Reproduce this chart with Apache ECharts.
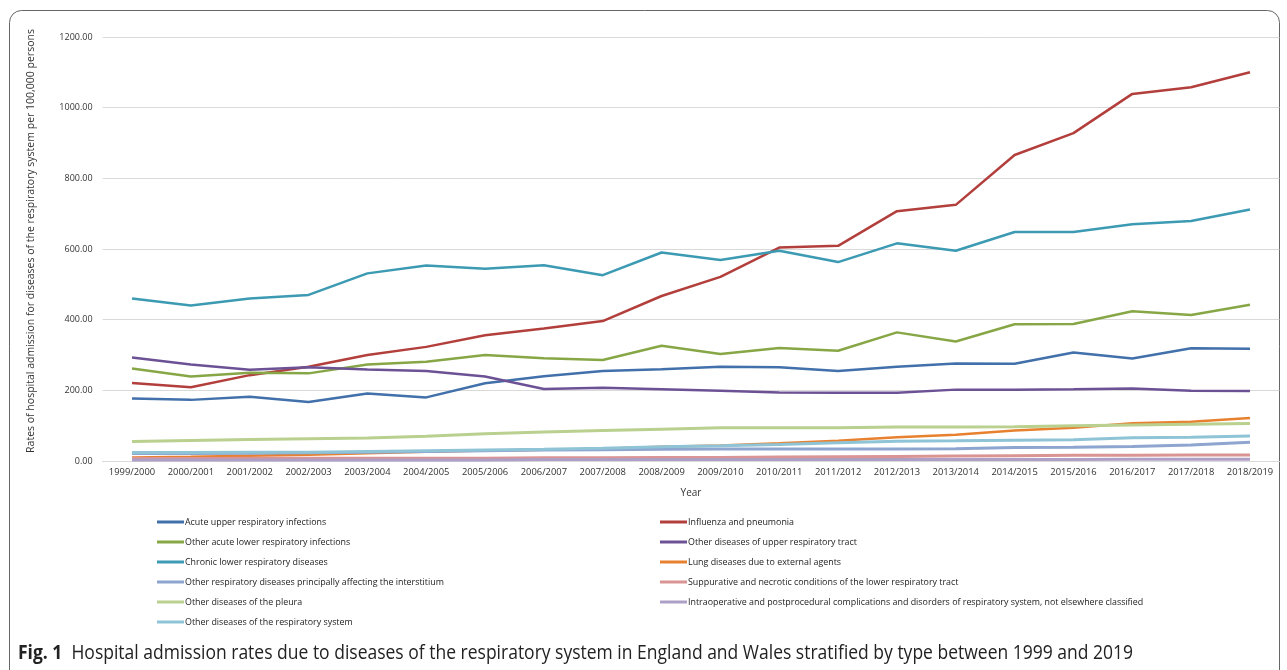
<!DOCTYPE html>
<html>
<head>
<meta charset="utf-8">
<script src="https://cdn.jsdelivr.net/npm/echarts@6/dist/echarts.min.js"></script>
<style>
  html, body { margin: 0; padding: 0; background: #fff; }
  #chart { width: 1287px; height: 670px; }
</style>
</head>
<body>
<div id="chart"></div>
<script>
const years = ['1999/2000', '2000/2001', '2001/2002', '2002/2003', '2003/2004', '2004/2005', '2005/2006',
  '2006/2007', '2007/2008', '2008/2009', '2009/2010', '2010/2011', '2011/2012', '2012/2013', '2013/2014',
  '2014/2015', '2015/2016', '2016/2017', '2017/2018', '2018/2019']

const acuteUpper = [177, 173, 182, 167, 191, 180, 220, 240, 255, 260, 267, 265, 255, 267, 276, 275, 307, 290, 319, 318]
const influenza = [221, 209, 243, 267, 300, 323, 356, 375, 396, 467, 521, 604, 609, 707, 725, 866, 928, 1039, 1058, 1100]
const otherAcuteLower = [262, 239, 250, 248, 273, 281, 300, 291, 286, 326, 303, 320, 312, 364, 338, 387, 388, 424, 413, 442]
const otherUpperTract = [293, 273, 258, 265, 259, 255, 239, 204, 207, 203, 199, 194, 193, 193, 202, 202, 203, 205, 199, 198]
const chronicLower = [460, 440, 460, 470, 531, 553, 544, 554, 526, 590, 569, 595, 563, 616, 595, 648, 648, 670, 679, 712]
const lungExternal = [10, 12, 15, 18, 22, 26, 30, 32, 35, 40, 44, 50, 57, 67, 74, 86, 94, 107, 111, 122]
const interstitium = [21, 21, 22, 23, 25, 27, 29, 31, 32, 33, 34, 34, 34, 34, 35, 38, 39, 41, 45, 53]
const suppurative = [7, 7, 8, 8, 8, 8, 8, 9, 9, 10, 10, 11, 12, 13, 14, 15, 16, 16, 17, 17]
const pleura = [55, 58, 61, 63, 65, 70, 77, 82, 86, 90, 94, 94, 94, 96, 96, 97, 100, 102, 104, 106]
const intraoperative = [3, 3, 3, 3, 3, 3, 3, 4, 4, 4, 4, 4, 4, 4, 4, 4, 4, 5, 5, 5]
const otherRespSystem = [24, 24, 25, 25, 27, 29, 31, 33, 36, 40, 43, 47, 52, 56, 57, 59, 60, 66, 67, 71]

const seriesList = [
  { name: 'Acute upper respiratory infections', data: acuteUpper, color: '#4170aa', width: 2.5 },
  { name: 'Influenza and pneumonia', data: influenza, color: '#b23f3c', width: 2.5 },
  { name: 'Other acute lower respiratory infections', data: otherAcuteLower, color: '#87a747', width: 2.5 },
  { name: 'Other diseases of upper respiratory tract', data: otherUpperTract, color: '#6c5295', width: 2.5 },
  { name: 'Chronic lower respiratory diseases', data: chronicLower, color: '#3c9ab3', width: 2.5 },
  { name: 'Lung diseases due to external agents', data: lungExternal, color: '#e8812f', width: 2.5 },
  { name: 'Other respiratory diseases principally affecting the interstitium', data: interstitium, color: '#8da5cf', width: 3 },
  { name: 'Suppurative and necrotic conditions of the lower respiratory tract', data: suppurative, color: '#d99493', width: 3 },
  { name: 'Other diseases of the pleura', data: pleura, color: '#b9d08f', width: 3 },
  { name: 'Intraoperative and postprocedural complications and disorders of respiratory system, not elsewhere classified', data: intraoperative, color: '#ae9fc6', width: 3 },
  { name: 'Other diseases of the respiratory system', data: otherRespSystem, color: '#8fc4d7', width: 3 },
]

const leftLegend = [0, 2, 4, 6, 8, 10].map(i => seriesList[i].name)
const rightLegend = [1, 3, 5, 7, 9].map(i => seriesList[i].name)

const font = "'Open Sans', sans-serif"
const legendBase = {
  orient: 'vertical',
  top: 516,
  padding: 0,
  icon: 'rect',
  itemWidth: 27,
  itemHeight: 3,
  itemGap: 8,
  textStyle: { fontFamily: font, fontSize: 8.9, color: '#222', lineHeight: 12, padding: [0, 0, 0, -4] },
}

const chart = echarts.init(document.getElementById('chart'))
chart.setOption({
  animation: false,
  grid: { left: 102.6, right: 7.6, top: 37, bottom: 209 },
  legend: [
    { ...legendBase, left: 157, data: leftLegend },
    { ...legendBase, left: 660, data: rightLegend },
  ],
  xAxis: {
    type: 'category',
    data: years,
    name: 'Year',
    nameLocation: 'middle',
    nameGap: 27,
    nameTextStyle: { fontFamily: font, fontSize: 10, color: '#333' },
    axisLine: { lineStyle: { color: '#d9d9d9', width: 1 } },
    axisTick: { show: false },
    axisLabel: { interval: 0, fontFamily: font, fontSize: 9.4, color: '#333', margin: 7 },
  },
  yAxis: {
    type: 'value',
    min: 0,
    max: 1200,
    interval: 200,
    axisLine: { show: false },
    axisTick: { show: false },
    splitLine: { lineStyle: { color: '#d9d9d9', width: 1 } },
    axisLabel: { fontFamily: font, fontSize: 9, color: '#333', margin: 10, formatter: v => v.toFixed(2) },
  },
  series: seriesList.map(s => ({
    name: s.name,
    type: 'line',
    data: s.data,
    color: s.color,
    showSymbol: false,
    symbol: 'none',
    lineStyle: { width: s.width, color: s.color },
  })),
  graphic: [
    {
      type: 'rect',
      shape: { x: 9.5, y: 10.5, width: 1270, height: 700, r: 12 },
      style: { fill: 'none', stroke: '#666', lineWidth: 1 },
      silent: true,
    },
    {
      // y axis title sits a little above the axis centre in the original
      type: 'text',
      x: 31,
      y: 241,
      rotation: Math.PI / 2,
      style: {
        text: 'Rates of hospital admission for diseases of the respiratory system per 100,000 persons',
        fontFamily: font,
        fontSize: 10.5,
        fill: '#333',
        align: 'center',
        verticalAlign: 'middle',
      },
    },
    {
      // caption set in a condensed face in the original, so squeeze it horizontally
      type: 'text',
      x: 18,
      y: 643,
      scaleX: 0.875,
      style: {
        text: '{b|Fig. 1}  Hospital admission rates due to diseases of the respiratory system in England and Wales stratified by type between 1999 and 2019',
        fontFamily: font,
        fontSize: 20,
        fill: '#222',
        rich: {
          b: { fontFamily: font, fontSize: 20, fontWeight: 'bold', fill: '#222' },
        },
      },
    },
  ],
})
</script>
</body>
</html>
